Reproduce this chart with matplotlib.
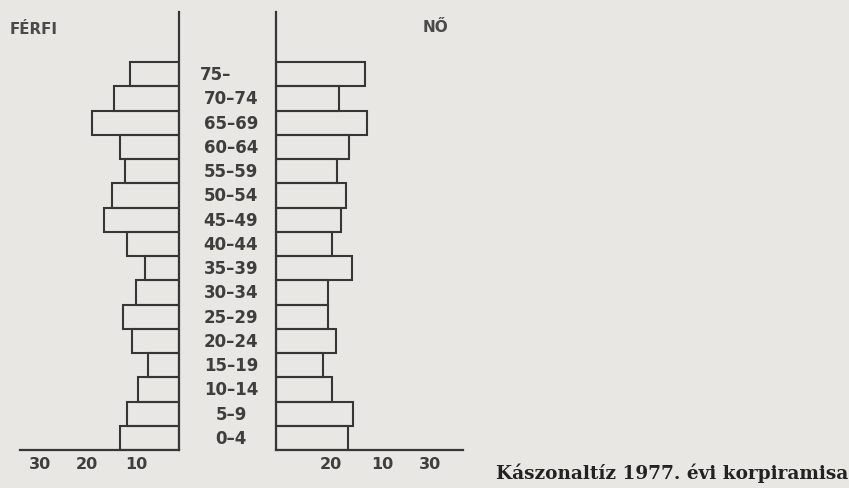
import numpy as np
import matplotlib
matplotlib.use("Agg")
import matplotlib.pyplot as plt
import matplotlib.transforms as mtrans

# age groups, bottom to top
ageGroups = ["0–4", "5–9", "10–14", "15–19", "20–24", "25–29", "30–34", "35–39",
             "40–44", "45–49", "50–54", "55–59", "60–64", "65–69", "70–74", "75–"]

# values (same units on both sides)
male = [12.2, 10.7, 8.5, 6.4, 9.7, 11.5, 8.9, 7.0,
        10.7, 15.5, 13.8, 11.1, 12.2, 17.9, 13.4, 10.1]
female = [14.8, 15.9, 11.5, 9.7, 12.4, 10.7, 10.7, 15.7,
          11.5, 13.4, 14.4, 12.6, 15.1, 18.8, 13.0, 18.4]

# printed axis labels (as in the original, right side reads 20 10 30)
leftTickPos = [28.7, 19.0, 8.7]
leftTickLabels = ["30", "20", "10"]
rightTickPos = [11.3, 21.9, 31.8]
rightTickLabels = ["20", "10", "30"]

W, H = 849, 489
bg = "#e8e7e3"
ink = "#363636"
textInk = "#3e3e3e"
pxPerUnit = 4.85
labelFont = "DejaVu Sans"

fig = plt.figure(figsize=(W / 100, H / 100), dpi=100)
fig.patch.set_facecolor(bg)

axTop, axBottom = 13, 451
nRows = len(ageGroups)
rowPx = (axBottom - 63) / nRows
yTop = (axBottom - axTop) / rowPx

lx0, lx1 = 20, 179
rx0, rx1 = 276, 463
axL = fig.add_axes([lx0 / W, 1 - axBottom / H, (lx1 - lx0) / W, (axBottom - axTop) / H])
axR = fig.add_axes([rx0 / W, 1 - axBottom / H, (rx1 - rx0) / W, (axBottom - axTop) / H])

y = np.arange(nRows)
for ax, vals in ((axL, male), (axR, female)):
    ax.set_facecolor("none")
    ax.barh(y, vals, height=1, align="edge", facecolor="none",
            edgecolor=ink, linewidth=1.5)
    ax.set_ylim(0, yTop)
    ax.set_yticks([])
    for s in ("top", "left", "right", "bottom"):
        ax.spines[s].set_visible(False)
    ax.spines["bottom"].set_visible(True)
    ax.spines["bottom"].set_color(ink)
    ax.spines["bottom"].set_linewidth(1.6)
    ax.tick_params(axis="x", length=0, pad=4, labelsize=11.5, labelcolor=textInk)

axL.set_xlim((lx1 - lx0) / pxPerUnit, 0)
axL.spines["right"].set_visible(True)
axL.spines["right"].set_color(ink)
axL.spines["right"].set_linewidth(1.6)
axL.set_xticks(leftTickPos, leftTickLabels, fontweight="bold", family=labelFont)

axR.set_xlim(0, (rx1 - rx0) / pxPerUnit)
axR.spines["left"].set_visible(True)
axR.spines["left"].set_color(ink)
axR.spines["left"].set_linewidth(1.6)
axR.set_xticks(rightTickPos, rightTickLabels, fontweight="bold", family=labelFont)

# age group labels in the middle gap
tr = mtrans.blended_transform_factory(fig.transFigure, axL.transData)
for i, lab in enumerate(ageGroups):
    if lab == "75–":
        axL.text(200 / W, i + 0.5, lab, transform=tr, ha="left", va="center",
                 fontsize=12, fontweight="bold", color=textInk,
                 family=labelFont, clip_on=False)
    else:
        axL.text(231 / W, i + 0.5, lab, transform=tr, ha="center", va="center",
                 fontsize=12, fontweight="bold", color=textInk,
                 family=labelFont, clip_on=False)

fig.text(10 / W, 1 - 29 / H, "FÉRFI", ha="left", va="center", fontsize=10.8,
         fontweight="bold", color="#4a4a4a", family=labelFont)
fig.text(423 / W, 1 - 28 / H, "NŐ", ha="left", va="center", fontsize=11,
         fontweight="bold", color="#4a4a4a", family=labelFont)

fig.text(848 / W, 1 - 479 / H, "Kászonaltíz 1977. évi korpiramisa", ha="right",
         va="baseline", fontsize=13.3, fontweight="bold", color="#222222",
         family="DejaVu Serif")

fig.savefig("out.png", dpi=100, facecolor=bg)
plt.close(fig)
